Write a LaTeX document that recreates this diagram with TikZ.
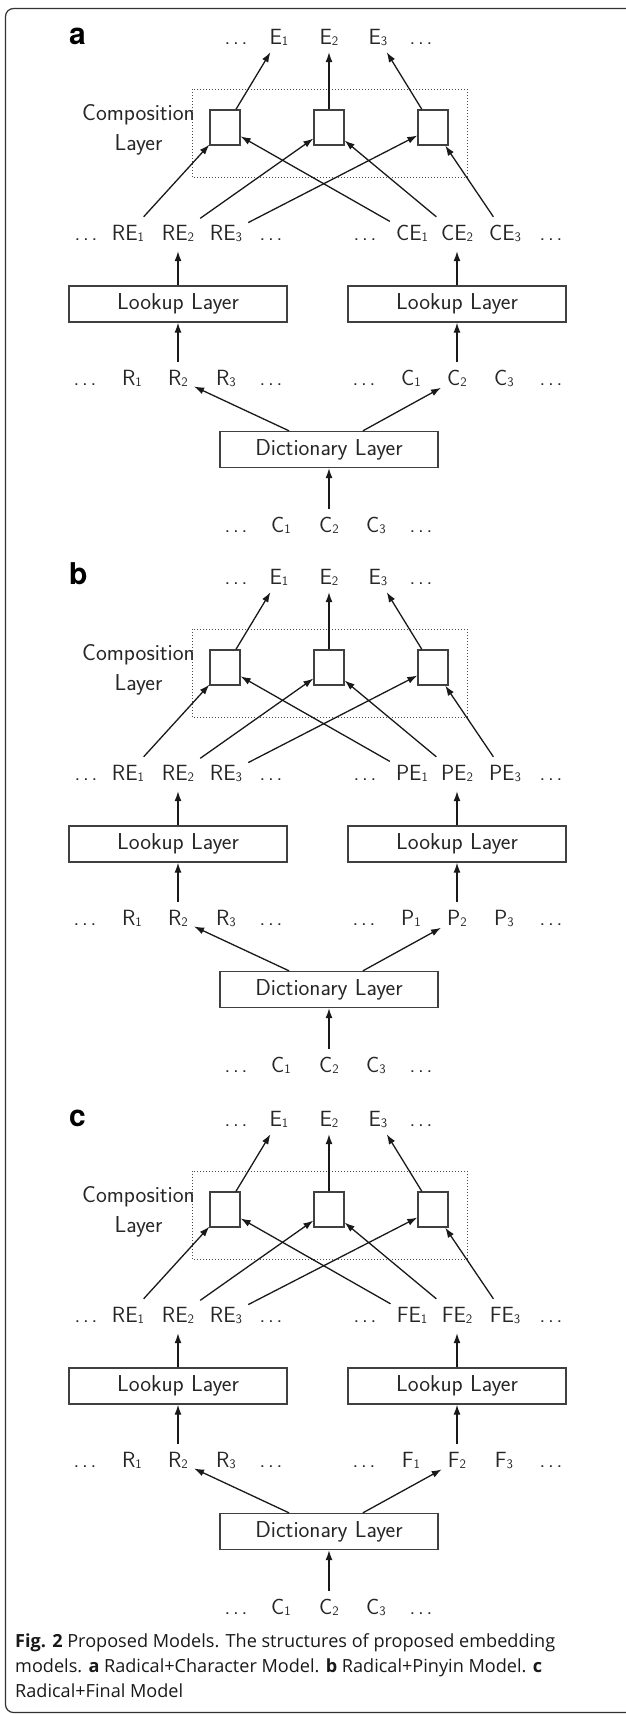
\documentclass[tikz,border=0pt]{standalone}
\usepackage{fontspec}
\newfontfamily\capfont{Open Sans}
\newfontfamily\labfont{TeX Gyre Heros}
\usetikzlibrary{arrows.meta}
\newcommand{\ix}[1]{\raisebox{-1pt}{\fontsize{13}{13}\selectfont #1}}
\newcommand{\dd}{.\kern0.13em.\kern0.13em.}

\begin{document}
\begin{tikzpicture}[x=1pt, y=-1pt,
        tok/.style={font=\sffamily\fontsize{22}{24}\selectfont, text=black!85, anchor=base,
            text height=15pt, text depth=3pt, inner xsep=6pt, inner ysep=8pt},
        outtok/.style={tok, inner xsep=4pt, inner ysep=5pt},
        layerbox/.style={draw=black!75, line width=1.3pt, minimum width=218pt, minimum height=36pt,
            inner sep=0pt, font=\sffamily\fontsize{23}{26}\selectfont, text=black!85},
        cell/.style={draw=black!75, line width=1.3pt, minimum width=30pt, minimum height=35pt, inner sep=0pt},
        complayer/.style={draw=black!70, line width=1pt, dotted},
        arrow/.style={-{Latex[length=10pt, width=7pt]}, line width=1.3pt, black!90},
        paneltag/.style={font=\labfont\bfseries\fontsize{30}{30}\selectfont, anchor=base west, inner sep=0pt}
    ]
    \useasboundingbox (0,0) rectangle (626,1714);
    \draw[black!80, line width=1.2pt, rounded corners=8pt] (5.5,8.5) rectangle (660,1712.5);

    \foreach \p/\off/\s in {a/0/C, b/540/P, c/1082/F} {
    \begin{scope}[shift={(0,\off)}]
    \node[paneltag] (\p-tag) at (69,44) {\p};

    % outputs
    \node[outtok] (\p-el) at (236,44) {\dd};
    \node[outtok] (\p-e1) at (279,44) {E\ix{1}};
    \node[outtok] (\p-e2) at (329,44) {E\ix{2}};
    \node[outtok] (\p-e3) at (378,44) {E\ix{3}};
    \node[outtok] (\p-er) at (421,44) {\dd};

    % composition layer
    \draw[complayer] (192,89) rectangle (467,177);
    \node[font=\sffamily\fontsize{23}{30}\selectfont, text=black!85, align=center, inner sep=0pt]
        (\p-comp) at (138.5,129.5) {Composition\\Layer};
    \node[cell] (\p-u1) at (225,127.5) {};
    \node[cell] (\p-u2) at (329,127.5) {};
    \node[cell] (\p-u3) at (433,127.5) {};

    % embeddings
    \node[tok] (\p-rel) at (86,240) {\dd};
    \node[tok] (\p-re1) at (128,240) {RE\ix{1}};
    \node[tok] (\p-re2) at (178,240) {RE\ix{2}};
    \node[tok] (\p-re3) at (226,240) {RE\ix{3}};
    \node[tok] (\p-rer) at (271,240) {\dd};
    \node[tok] (\p-sel) at (365,240) {\dd};
    \node[tok] (\p-se1) at (412,240) {\s E\ix{1}};
    \node[tok] (\p-se2) at (457,240) {\s E\ix{2}};
    \node[tok] (\p-se3) at (505,240) {\s E\ix{3}};
    \node[tok] (\p-ser) at (551,240) {\dd};

    \node[layerbox] (\p-lookr) at (178,304) {Lookup Layer};
    \node[layerbox] (\p-looks) at (457,304) {Lookup Layer};

    % radicals and the other part
    \node[tok] (\p-rl) at (85,385) {\dd};
    \node[tok] (\p-r1) at (132,385) {R\ix{1}};
    \node[tok] (\p-r2) at (178,385) {R\ix{2}};
    \node[tok] (\p-r3) at (226,385) {R\ix{3}};
    \node[tok] (\p-rr) at (271,385) {\dd};
    \node[tok] (\p-sl) at (364,385) {\dd};
    \node[tok] (\p-s1) at (411,385) {\s\ix{1}};
    \node[tok] (\p-s2) at (457,385) {\s\ix{2}};
    \node[tok] (\p-s3) at (504,385) {\s\ix{3}};
    \node[tok] (\p-sr) at (551,385) {\dd};

    \node[layerbox] (\p-dict) at (329,449.5) {Dictionary Layer};

    % characters
    \node[tok] (\p-cl) at (236,532) {\dd};
    \node[tok] (\p-c1) at (281,532) {C\ix{1}};
    \node[tok] (\p-c2) at (329,532) {C\ix{2}};
    \node[tok] (\p-c3) at (376,532) {C\ix{3}};
    \node[tok] (\p-cr) at (421,532) {\dd};

    \draw[arrow] (\p-c2) -- (\p-dict);
    \draw[arrow] (\p-dict) -- (\p-r2);
    \draw[arrow] (\p-dict) -- (\p-s2);
    \draw[arrow] (\p-r2) -- (\p-lookr);
    \draw[arrow] (\p-s2) -- (\p-looks);
    \draw[arrow] (\p-lookr) -- (\p-re2);
    \draw[arrow] (\p-looks) -- (\p-se2);
    \draw[arrow] (\p-re1) -- (\p-u1);
    \draw[arrow] (\p-re2) -- (\p-u2);
    \draw[arrow] (\p-re3) -- (\p-u3);
    \draw[arrow] (\p-se1) -- (\p-u1);
    \draw[arrow] (\p-se2) -- (\p-u2);
    \draw[arrow] (\p-se3) -- (\p-u3);
    \draw[arrow] (\p-u1) -- (\p-e1);
    \draw[arrow] (\p-u2) -- (\p-e2);
    \draw[arrow] (\p-u3) -- (\p-e3);
    \end{scope}
    }

    \node[anchor=north west, align=left, inner sep=0pt, text=black!90,
        font=\capfont\fontsize{18.1}{25}\selectfont] (caption) at (15,1633)
        {\textbf{Fig. 2} Proposed Models. The structures of proposed embedding\\
        models. \textbf{a} Radical+Character Model. \textbf{b} Radical+Pinyin Model. \textbf{c}\\
        Radical+Final Model};
\end{tikzpicture}
\end{document}
